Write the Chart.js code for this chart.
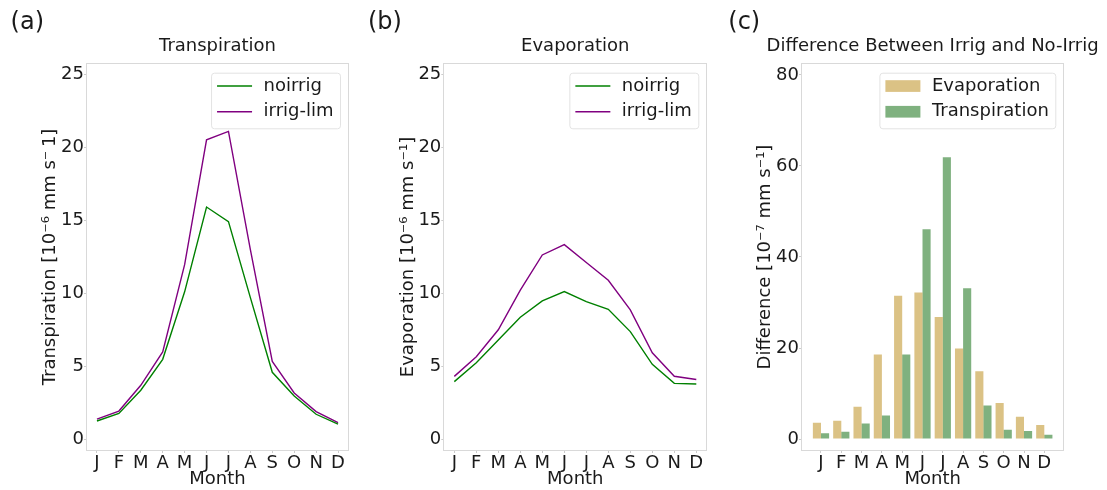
<!DOCTYPE html>
<html>
<head>
<meta charset="utf-8">
<script src="https://cdn.jsdelivr.net/npm/chart.js@4.4.0/dist/chart.umd.min.js"></script>
<style>
    body { margin: 0; background: #ffffff; }
    .panel { position: absolute; top: 0; }
</style>
</head>
<body>
<div class="panel" style="left:0px"><canvas id="transChart" width="365" height="490"></canvas></div>
<div class="panel" style="left:365px"><canvas id="evapChart" width="365" height="490"></canvas></div>
<div class="panel" style="left:725px"><canvas id="diffChart" width="382" height="490"></canvas></div>
<script>
// month labels + tick values
var months = ['J', 'F', 'M', 'A', 'M', 'J', 'J', 'A', 'S', 'O', 'N', 'D'];
var lineTicks = [0, 5, 10, 15, 20, 25];
var diffTicks = [0, 20, 40, 60, 80];

// (a) transpiration [1e-6 mm/s]
var transNoirrig = [1.24, 1.76, 3.35, 5.47, 10.1, 15.92, 14.92, 9.7, 4.58, 2.95, 1.70, 1.03];
var transIrrigLim = [1.37, 1.92, 3.69, 5.98, 11.96, 20.53, 21.11, 13.0, 5.32, 3.16, 1.88, 1.13];

// (b) evaporation [1e-6 mm/s]
var evapNoirrig = [3.94, 5.24, 6.8, 8.36, 9.48, 10.12, 9.43, 8.9, 7.37, 5.13, 3.82, 3.78];
var evapIrrigLim = [4.30, 5.65, 7.5, 10.22, 12.63, 13.34, 12.11, 10.89, 8.86, 5.92, 4.31, 4.09];

// (c) irrig minus no-irrig [1e-7 mm/s]
var diffEvap = [3.6, 4.05, 7.1, 18.6, 31.5, 32.2, 26.8, 19.9, 14.9, 7.9, 4.9, 3.1];
var diffTrans = [1.3, 1.6, 3.4, 5.15, 18.6, 46.1, 61.9, 33.1, 7.36, 2.06, 1.77, 0.96];

var textColor = '#1a1a1a';
var fontSize = 18;

Chart.defaults.font.family = "'DejaVu Sans'";
Chart.defaults.font.size = fontSize;
Chart.defaults.color = textColor;

// light grey box around the plotting area
var framePlugin = {
    id: 'frame',
    beforeDatasetsDraw: function(chart) {
        var a = chart.chartArea;
        var ctx = chart.ctx;
        ctx.save();
        ctx.strokeStyle = '#d9d9d9';
        ctx.lineWidth = 1;
        ctx.strokeRect(Math.round(a.left) + 0.5, Math.round(a.top) + 0.5,
            Math.round(a.right - a.left) - 1, Math.round(a.bottom - a.top) - 1);
        ctx.restore();
    }
};

// panel letter + title centred over the plot area
var panelText = {
    id: 'panelText',
    afterDraw: function(chart, args, opts) {
        var a = chart.chartArea;
        var ctx = chart.ctx;
        ctx.save();
        ctx.fillStyle = textColor;
        ctx.textBaseline = 'alphabetic';
        ctx.textAlign = 'left';
        ctx.font = "24px 'DejaVu Sans'";
        ctx.fillText(opts.letter, opts.letterX, 28.5);
        ctx.textAlign = 'center';
        ctx.font = fontSize + "px 'DejaVu Sans'";
        ctx.fillText(opts.title, (a.left + a.right) / 2, 51);
        ctx.restore();
    }
};

// matplotlib-like legend box in the upper right corner
var boxLegend = {
    id: 'boxLegend',
    afterDatasetsDraw: function(chart, args, opts) {
        var a = chart.chartArea;
        var ctx = chart.ctx;
        var sets = chart.data.datasets;
        ctx.save();
        ctx.font = fontSize + "px 'DejaVu Sans'";
        var textW = 0;
        sets.forEach(function(ds) {
            textW = Math.max(textW, ctx.measureText(ds.label).width);
        });
        var w = 6 + 35 + 11.5 + textW + 6.5;
        var h = 55.6;
        var right = a.right - 9;
        var top = a.top + 9.7;
        var left = right - w;
        ctx.beginPath();
        if (ctx.roundRect) {
            ctx.roundRect(left + 0.5, top + 0.5, w, h, 3);
        } else {
            ctx.rect(left + 0.5, top + 0.5, w, h);
        }
        ctx.fillStyle = 'rgba(255,255,255,0.8)';
        ctx.fill();
        ctx.strokeStyle = '#e3e3e3';
        ctx.lineWidth = 1;
        ctx.stroke();
        sets.forEach(function(ds, i) {
            var cy = top + 13.3 + i * 25.7;
            if (opts.kind === 'patch') {
                ctx.fillStyle = ds.backgroundColor;
                ctx.fillRect(left + 6, cy - 5.8, 35, 11.7);
            } else {
                ctx.strokeStyle = ds.borderColor;
                ctx.lineWidth = ds.borderWidth;
                ctx.beginPath();
                ctx.moveTo(left + 6, cy);
                ctx.lineTo(left + 41, cy);
                ctx.stroke();
            }
            ctx.fillStyle = textColor;
            ctx.textBaseline = 'middle';
            ctx.textAlign = 'left';
            ctx.fillText(ds.label, left + 6 + 35 + 11.5, cy);
        });
        ctx.restore();
    }
};

function yAxis(min, max, tickList, label) {
    return {
        min: min,
        max: max,
        afterBuildTicks: function(axis) {
            axis.ticks = tickList.map(function(v) { return { value: v }; });
        },
        afterFit: function(scale) { scale.width = 50; },
        border: { display: false },
        grid: { drawOnChartArea: false, tickLength: 2, color: '#cccccc' },
        ticks: { padding: 0, color: textColor },
        title: { display: true, text: label, color: textColor, padding: { top: 4, bottom: 4 } }
    };
}

function monthAxisTitle() {
    return { display: true, text: 'Month', color: textColor, padding: { top: 0, bottom: 0 } };
}

function lineChart(id, noirrig, irrigLim, letter, letterX, title, ylabel, padLeft, padRight) {
    var ctx = document.getElementById(id);
    return new Chart(ctx, {
        type: 'line',
        data: {
            labels: months,
            datasets: [
                { label: 'noirrig', data: noirrig, borderColor: '#008000', borderWidth: 1.4, pointRadius: 0, tension: 0, fill: false },
                { label: 'irrig-lim', data: irrigLim, borderColor: '#800080', borderWidth: 1.4, pointRadius: 0, tension: 0, fill: false }
            ]
        },
        options: {
            responsive: false,
            animation: false,
            devicePixelRatio: 1,
            layout: { padding: { left: padLeft, right: padRight, top: 63, bottom: 0 } },
            plugins: {
                legend: { display: false },
                tooltip: { enabled: false },
                panelText: { letter: letter, letterX: letterX, title: title },
                boxLegend: { kind: 'line' }
            },
            scales: {
                x: {
                    type: 'category',
                    offset: true,
                    afterFit: function(scale) { scale.height = 39; },
                    border: { display: false },
                    grid: { drawOnChartArea: false, tickLength: 2, color: '#cccccc' },
                    ticks: { padding: 0, maxRotation: 0, autoSkip: false, color: textColor },
                    title: monthAxisTitle()
                },
                y: yAxis(-0.82, 25.8, lineTicks, ylabel)
            }
        },
        plugins: [framePlugin, panelText, boxLegend]
    });
}

lineChart('transChart', transNoirrig, transIrrigLim, '(a)', 10.6, 'Transpiration',
    'Transpiration [10\u207B\u2076 mm s\u207B\u20091]', 36, 16);
lineChart('evapChart', evapNoirrig, evapIrrigLim, '(b)', 3, 'Evaporation',
    'Evaporation [10\u207B\u2076 mm s\u207B\u00B9]', 28.3, 22.7);

function xy(values) {
    return values.map(function(v, i) { return { x: i, y: v }; });
}

var diffCtx = document.getElementById('diffChart');
var diffChart = new Chart(diffCtx, {
    type: 'bar',
    data: {
        datasets: [
            { label: 'Evaporation', data: xy(diffEvap), backgroundColor: 'rgba(184,134,11,0.5)', borderWidth: 0 },
            { label: 'Transpiration', data: xy(diffTrans), backgroundColor: 'rgba(0,100,0,0.5)', borderWidth: 0 }
        ]
    },
    options: {
        responsive: false,
        animation: false,
        devicePixelRatio: 1,
        layout: { padding: { left: 26, right: 42.7, top: 63, bottom: 0 } },
        datasets: { bar: { barPercentage: 1.0, categoryPercentage: 0.8 } },
        plugins: {
            legend: { display: false },
            tooltip: { enabled: false },
            panelText: { letter: '(c)', letterX: 3.3, title: 'Difference Between Irrig and No-Irrig' },
            boxLegend: { kind: 'patch' }
        },
        scales: {
            x: {
                type: 'linear',
                offset: false,
                min: -0.985,
                max: 11.985,
                afterBuildTicks: function(axis) {
                    axis.ticks = months.map(function(m, i) { return { value: i }; });
                },
                afterFit: function(scale) { scale.height = 39; },
                border: { display: false },
                grid: { offset: false, drawOnChartArea: false, tickLength: 2, color: '#cccccc' },
                ticks: {
                    padding: 0, maxRotation: 0, autoSkip: false, color: textColor,
                    callback: function(v) { return months[v]; }
                },
                title: monthAxisTitle()
            },
            y: yAxis(-2.62, 82.6, diffTicks, 'Difference [10\u207B\u2077 mm s\u207B\u00B9]')
        }
    },
    plugins: [framePlugin, panelText, boxLegend]
});
</script>
</body>
</html>
